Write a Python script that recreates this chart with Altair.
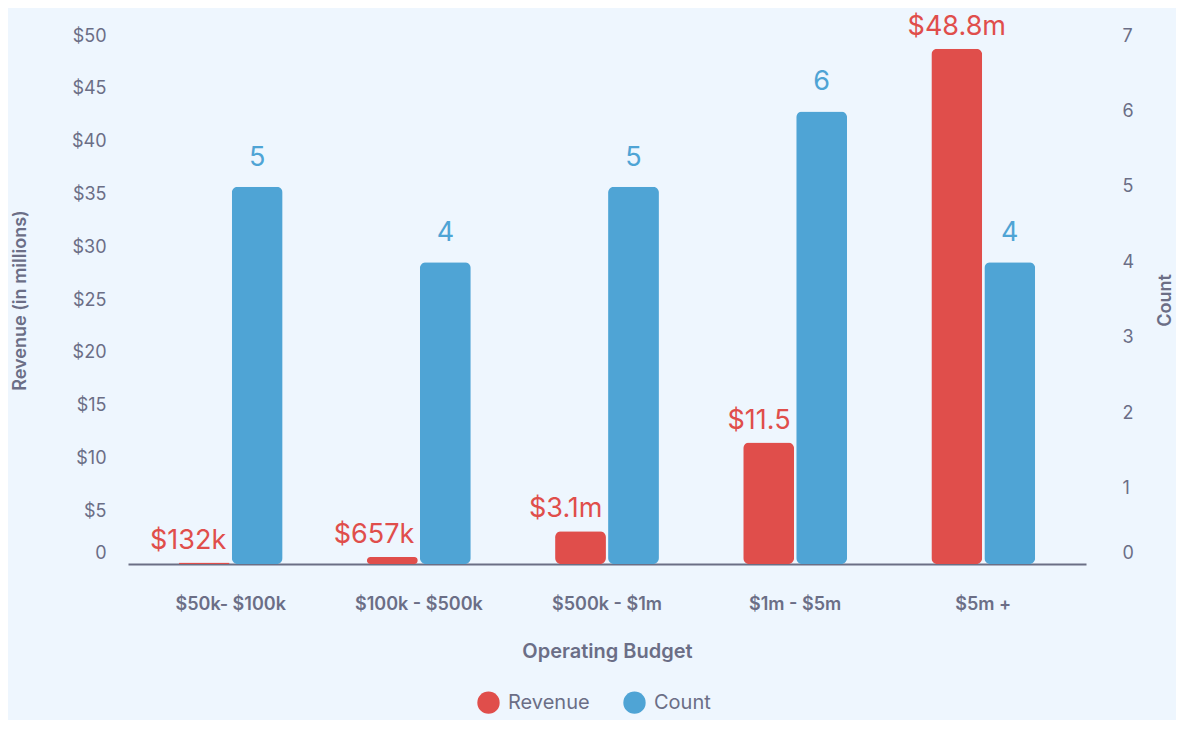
import altair as alt
import pandas as pd

categories = ["$50k- $100k", "$100k - $500k", "$500k - $1m", "$1m - $5m", "$5m +"]
revenue = [0.132, 0.657, 3.1, 11.5, 48.8]
revenue_labels = ["$132k", "$657k", "$3.1m", "$11.5", "$48.8m"]
count = [5, 4, 5, 6, 4]
count_labels = ["5", "4", "5", "6", "4"]
series = ["Revenue", "Count"]
colors = ["#E04E4B", "#4FA4D5"]

FONT = "Inter"
GRAY = "#6B6E86"

df = pd.DataFrame({
    "category": categories,
    "revenue": revenue,
    "rev_label": revenue_labels,
    "count": count,
    "cnt_label": count_labels,
})

x_enc = alt.X(
    "category:N",
    sort=categories,
    scale=alt.Scale(paddingInner=0.448, paddingOuter=0.27),
    axis=alt.Axis(
        title="Operating Budget",
        labelAngle=0,
        labelFontSize=18,
        labelFontWeight=600,
        labelColor=GRAY,
        labelPadding=31,
        ticks=False,
        domain=True,
        domainColor="#6B6F85",
        domainWidth=2,
        titleFontSize=20,
        titleFontWeight=600,
        titleColor=GRAY,
        titlePadding=28,
        labelFont=FONT,
        titleFont=FONT,
    ),
)
xoff = alt.XOffset("series:N", scale=alt.Scale(domain=series, paddingInner=0.04))
color_enc = alt.Color(
    "series:N",
    scale=alt.Scale(domain=series, range=colors),
    legend=alt.Legend(
        title=None,
        orient="none",
        legendX=349,
        legendY=655,
        direction="horizontal",
        symbolType="circle",
        symbolSize=500,
        symbolStrokeWidth=0,
        labelFontSize=20,
        labelColor=GRAY,
        labelFont=FONT,
        columnPadding=33,
        labelOffset=8,
    ),
)

base = alt.Chart(df)

rev_scale = alt.Scale(domain=[0, 50], nice=False)
cnt_scale = alt.Scale(domain=[0, 7], nice=False)

zero_shift = {"condition": {"test": "datum.value == 0", "value": -11}, "value": 0}

rev_y_axis = alt.Axis(
    title="Revenue (in millions)",
    orient="left",
    values=[0, 5, 10, 15, 20, 25, 30, 35, 40, 45, 50],
    labelExpr="datum.value == 0 ? '0' : '$' + datum.value",
    labelOffset=zero_shift,
    grid=False,
    ticks=False,
    domain=False,
    labelFontSize=18,
    labelColor=GRAY,
    labelPadding=22,
    labelFont=FONT,
    titleFont=FONT,
    titleFontSize=18,
    titleFontWeight=600,
    titleColor=GRAY,
    titlePadding=42,
)

rev_bar = base.transform_calculate(series="'Revenue'").mark_bar(cornerRadius=6).encode(
    x=x_enc,
    xOffset=xoff,
    color=color_enc,
    y=alt.Y("revenue:Q", scale=rev_scale, axis=rev_y_axis),
)

# revenue labels: centred on the bar, unless the neighbouring count bar would overlap,
# in which case right-aligned to the bar edge
rev_text_center = base.transform_calculate(series="'Revenue'").transform_filter(
    "datum.count / 7 <= datum.revenue / 50"
).mark_text(
    fontSize=27, baseline="bottom", dy=-8, font=FONT, color=colors[0]
).encode(
    x=alt.X("category:N", sort=categories),
    xOffset=xoff,
    y=alt.Y("revenue:Q", scale=rev_scale),
    text="rev_label:N",
)
rev_text_right = base.transform_calculate(series="'Revenue'").transform_filter(
    "datum.count / 7 > datum.revenue / 50"
).mark_text(
    fontSize=27, baseline="bottom", dy=-8, dx=22, align="right", font=FONT, color=colors[0]
).encode(
    x=alt.X("category:N", sort=categories),
    xOffset=xoff,
    y=alt.Y("revenue:Q", scale=rev_scale),
    text="rev_label:N",
)

cnt_bar = base.transform_calculate(series="'Count'").mark_bar(cornerRadius=6).encode(
    x=x_enc,
    xOffset=xoff,
    color=color_enc,
    y=alt.Y(
        "count:Q",
        scale=cnt_scale,
        axis=alt.Axis(
            title="Count",
            orient="right",
            values=[0, 1, 2, 3, 4, 5, 6, 7],
            format="d",
            labelOffset=zero_shift,
            grid=False,
            ticks=False,
            domain=False,
            labelFontSize=18,
            labelColor=GRAY,
            labelPadding=36,
            labelFont=FONT,
            titleFont=FONT,
            titleFontSize=18,
            titleFontWeight=600,
            titleColor=GRAY,
            titlePadding=41,
            titleAngle=270,
        ),
    ),
)
cnt_text = base.transform_calculate(series="'Count'").mark_text(
    fontSize=27, baseline="bottom", dy=-15, font=FONT, color=colors[1]
).encode(
    x=alt.X("category:N", sort=categories),
    xOffset=xoff,
    y=alt.Y("count:Q", scale=cnt_scale),
    text="cnt_label:N",
)

# revenue bars and their labels share the left axis
left = alt.layer(rev_bar, rev_text_center, rev_text_right)
right = alt.layer(cnt_bar, cnt_text)

chart = (
    alt.layer(left, right)
    .resolve_scale(y="independent")
    .properties(
        width=958,
        height=528,
        background="#EEF6FE",
        padding={"left": 120, "top": 28, "right": 90, "bottom": 156},
        autosize=alt.AutoSizeParams(type="none"),
    )
    .configure_view(stroke=None)
)

chart.save("out.html", embed_options={"renderer": "svg", "actions": False})
